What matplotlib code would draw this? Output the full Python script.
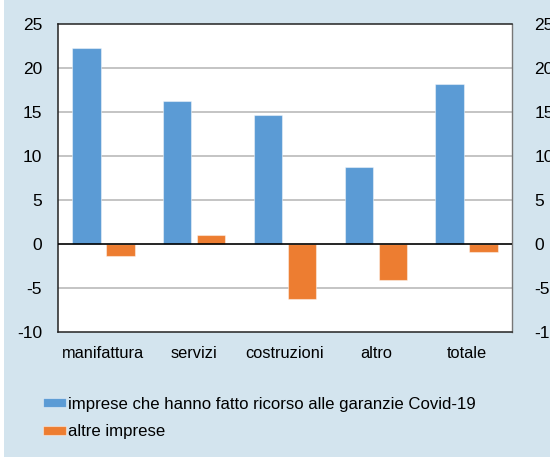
import matplotlib.pyplot as plt
from matplotlib.patches import Rectangle
import numpy as np

plt.rcParams['font.family'] = ['Liberation Sans', 'DejaVu Sans']

categories = ['manifattura', 'servizi', 'costruzioni', 'altro', 'totale']
covid = [22.3, 16.3, 14.7, 8.7, 18.2]
altre = [-1.4, 1.0, -6.3, -4.1, -0.9]
labels = ['imprese che hanno fatto ricorso alle garanzie Covid-19', 'altre imprese']
yticks = [-10, -5, 0, 5, 10, 15, 20, 25]

BG = '#d3e4ee'
BLUE = '#5b9bd5'
ORANGE = '#ed7d31'


def main():
    fig = plt.figure(figsize=(5.5, 4.57), dpi=100, facecolor=BG)
    # thin white strip on the left edge
    fig.patches.append(Rectangle((0, 0), 4 / 550, 1, transform=fig.transFigure,
                                 facecolor='white', edgecolor='none', zorder=-1))

    ax = fig.add_axes([58 / 550, 1 - 332 / 457, 454 / 550, 308 / 457])
    ax.set_facecolor('white')

    x = np.arange(len(categories))
    w = 0.314
    off = 0.187
    edge = (1, 1, 1, 0.45)
    ax.bar(x - off, covid, w, color=BLUE, edgecolor=edge, linewidth=0.8,
           label=labels[0], zorder=3)
    ax.bar(x + off, altre, w, color=ORANGE, edgecolor=edge, linewidth=0.8,
           label=labels[1], zorder=3)

    ax.set_xlim(-0.5, len(categories) - 0.5)
    ax.set_ylim(-10, 25)
    ax.set_yticks(yticks)
    ax.set_yticklabels([str(v) for v in yticks])
    ax.set_xticks(x)
    ax.set_xticklabels(categories)
    ax.tick_params(axis='y', length=0, pad=11.5, labelsize=12.5)
    ax.tick_params(axis='x', length=0, pad=10, labelsize=11.8)

    for v in yticks:
        if v in (-10, 0, 25):
            continue
        ax.axhline(v, color='#b4b4b4', linewidth=1.1, zorder=1)
    ax.axhline(0, color='black', linewidth=1.2, zorder=4)

    for side in ['left', 'bottom', 'top']:
        ax.spines[side].set_color('#222222')
        ax.spines[side].set_linewidth(1.1)
    ax.spines['right'].set_color('#777777')
    ax.spines['right'].set_linewidth(1.0)

    ax2 = ax.twinx()
    ax2.set_ylim(-10, 25)
    ax2.set_yticks(yticks)
    ax2.set_yticklabels([str(v) for v in yticks])
    ax2.tick_params(axis='y', length=0, pad=16, labelsize=12.5)
    for s in ax2.spines.values():
        s.set_visible(False)

    handles, lbls = ax.get_legend_handles_labels()
    fig.legend(handles, lbls, loc='upper left', bbox_to_anchor=(36 / 550, 1 - 390 / 457),
               frameon=False, fontsize=12.1, handlelength=1.4, handleheight=0.42,
               handletextpad=0.1, labelspacing=0.75, borderaxespad=0)

    fig.savefig('out.png', dpi=100, facecolor=BG)
    plt.close(fig)


if __name__ == '__main__':
    main()
